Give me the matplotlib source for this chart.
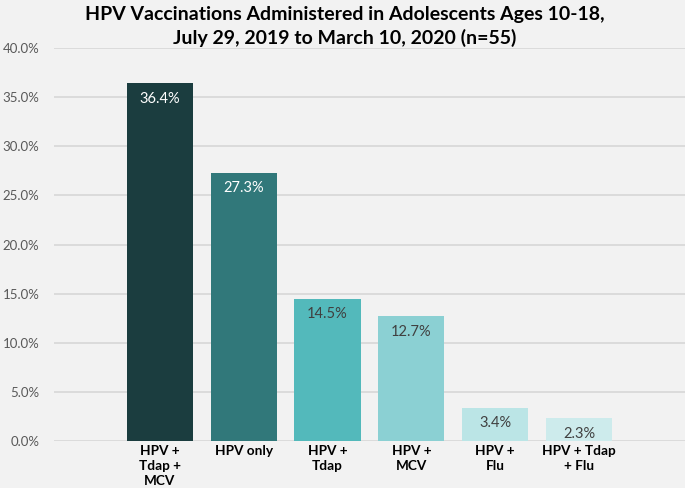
import matplotlib
matplotlib.use("Agg")
import matplotlib.pyplot as plt
from matplotlib.ticker import PercentFormatter

categories = ["HPV +\nTdap +\nMCV", "HPV only", "HPV +\nTdap", "HPV +\nMCV",
              "HPV +\nFlu", "HPV + Tdap\n+ Flu"]
values = [36.4, 27.3, 14.5, 12.7, 3.4, 2.3]
bar_colors = ["#1B3D3F", "#31787A", "#53B9BB", "#8BD0D3", "#BBE5E6", "#CDEBEC"]
label_colors = ["white", "white", "#404040", "#404040", "#404040", "#404040"]
yticks = [0, 5, 10, 15, 20, 25, 30, 35, 40]

plt.rcParams["font.family"] = ["Lato", "DejaVu Sans"]
BG = "#F2F2F2"

fig = plt.figure(figsize=(6.85, 4.88), dpi=100, facecolor=BG)
ax = fig.add_axes([0.0788, 0.0963, 0.9212, 0.8053], facecolor=BG)

x = list(range(len(values)))
ax.bar(x, values, width=0.79, color=bar_colors, zorder=3)

# value labels sit just inside the top of each bar
for xi, v, c in zip(x, values, label_colors):
    ax.annotate(f"{v:.1f}%", (xi, v), xytext=(0, -6), textcoords="offset points",
                ha="center", va="top", fontsize=10.5, color=c, zorder=4)

ax.set_xlim(-1.265, 6.265)
ax.set_ylim(0, 40)
ax.set_yticks(yticks)
ax.yaxis.set_major_formatter(PercentFormatter(decimals=1))
ax.tick_params(axis="y", length=0, pad=10.5, labelsize=9.5, labelcolor="#595959")
ax.set_xticks(x)
ax.set_xticklabels(categories, fontsize=9.8, fontweight="bold", color="black",
                   linespacing=1.3)
ax.tick_params(axis="x", length=0, pad=3)
ax.grid(axis="y", color="#D9D9D9", lw=1.3, zorder=0)
for s in ax.spines.values():
    s.set_visible(False)

fig.text(0.503, 0.988, "HPV Vaccinations Administered in Adolescents Ages 10-18,\n"
         "July 29, 2019 to March 10, 2020 (n=55)",
         ha="center", va="top", fontsize=14, fontweight="bold", linespacing=1.38)

fig.savefig("out.png", dpi=100, facecolor=BG)
